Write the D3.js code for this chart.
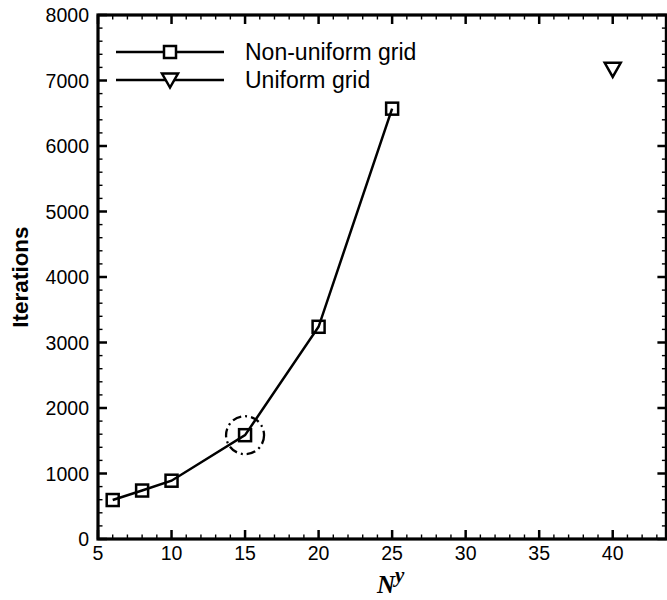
<!DOCTYPE html>
<html>
<head>
<meta charset="utf-8">
<script src="https://cdn.jsdelivr.net/npm/d3@7"></script>
<style>
  html, body { margin: 0; padding: 0; background: #fff; }
  svg { display: block; }
</style>
</head>
<body>
<svg id="chart" width="667" height="600"></svg>
<script>
// Grid points in y and the iteration count needed to converge
const nonUniformN = [6, 8, 10, 15, 20, 25];
const nonUniformIter = [595, 740, 890, 1585, 3240, 6570];
const uniformN = [40];
const uniformIter = [7170];
const highlightN = 15;
const highlightIter = 1585;

const xTicks = [5, 10, 15, 20, 25, 30, 35, 40];
const yTicks = [0, 1000, 2000, 3000, 4000, 5000, 6000, 7000, 8000];
const seriesNames = ["Non-uniform grid", "Uniform grid"];

const svg = d3.select("#chart");
const plotL = 98, plotR = 666.4, plotT = 15, plotB = 539;

const x = d3.scaleLinear().domain([5, 43.65]).range([plotL, plotR]);
const y = d3.scaleLinear().domain([0, 8000]).range([plotB, plotT]);

const font = "Arial, 'Liberation Sans', Helvetica, sans-serif";

// Minor / major tick helpers (inward ticks on all four sides)
const xMinor = d3.range(5, 44, 1).filter(v => v % 5 !== 0);
const yMinor = d3.range(0, 8001, 200).filter(v => v % 1000 !== 0);
const majorLen = 9, minorLen = 4.5;

const ticks = svg.append("g").attr("stroke", "#000");
function tickSet(vals, len, w, axis) {
  vals.forEach(v => {
    if (axis === "x") {
      ticks.append("line").attr("x1", x(v)).attr("x2", x(v)).attr("y1", plotB).attr("y2", plotB - len).attr("stroke-width", w);
      ticks.append("line").attr("x1", x(v)).attr("x2", x(v)).attr("y1", plotT).attr("y2", plotT + len).attr("stroke-width", w);
    } else {
      ticks.append("line").attr("y1", y(v)).attr("y2", y(v)).attr("x1", plotL).attr("x2", plotL + len).attr("stroke-width", w);
      ticks.append("line").attr("y1", y(v)).attr("y2", y(v)).attr("x1", plotR).attr("x2", plotR - len).attr("stroke-width", w);
    }
  });
}
tickSet(xTicks, majorLen, 2.5, "x");
tickSet(xMinor, minorLen, 1.4, "x");
tickSet(yTicks, majorLen, 2.5, "y");
tickSet(yMinor, minorLen, 1.4, "y");

// Frame
svg.append("rect")
  .attr("x", plotL).attr("y", plotT)
  .attr("width", plotR - plotL).attr("height", plotB - plotT)
  .attr("fill", "none").attr("stroke", "#000").attr("stroke-width", 3.2);

// Tick labels
svg.append("g").selectAll("text").data(xTicks).join("text")
  .attr("x", d => x(d)).attr("y", plotB + 21)
  .attr("text-anchor", "middle")
  .attr("font-family", font).attr("font-size", 19.5)
  .text(d => d);

svg.append("g").selectAll("text").data(yTicks).join("text")
  .attr("x", plotL - 9).attr("y", d => y(d) + 7)
  .attr("text-anchor", "end")
  .attr("font-family", font).attr("font-size", 19.5)
  .text(d => d);

// Axis titles
svg.append("text")
  .attr("transform", `translate(28, ${(plotT + plotB) / 2}) rotate(-90)`)
  .attr("text-anchor", "middle")
  .attr("font-family", font).attr("font-size", 22.5).attr("font-weight", "bold")
  .text("Iterations");

const xt = svg.append("text")
  .attr("x", 377).attr("y", 593)
  .attr("font-family", "'Liberation Serif', 'Times New Roman', serif")
  .attr("font-style", "italic").attr("font-weight", "bold")
  .attr("font-size", 25);
xt.append("tspan").text("N");
xt.append("tspan").attr("dy", -11).attr("font-size", 21).text("y");

// Non-uniform grid series
const line = d3.line().x((d, i) => x(nonUniformN[i])).y(d => y(d));
svg.append("path")
  .datum(nonUniformIter)
  .attr("d", line)
  .attr("fill", "none").attr("stroke", "#000").attr("stroke-width", 2.5);

const sq = 12;
svg.append("g").selectAll("rect").data(nonUniformIter).join("rect")
  .attr("x", (d, i) => x(nonUniformN[i]) - sq / 2)
  .attr("y", d => y(d) - sq / 2)
  .attr("width", sq).attr("height", sq)
  .attr("fill", "none").attr("stroke", "#000").attr("stroke-width", 2.5);

// Uniform grid series
const tri = (cx, cy) => `M${cx - 8},${cy - 6.5} L${cx + 8},${cy - 6.5} L${cx},${cy + 7.5} Z`;
svg.append("g").selectAll("path").data(uniformIter).join("path")
  .attr("d", (d, i) => tri(x(uniformN[i]), y(d)))
  .attr("fill", "none").attr("stroke", "#000").attr("stroke-width", 2.5)
  .attr("stroke-linejoin", "miter");

// Dash-dot ring around the selected grid
svg.append("circle")
  .attr("cx", x(highlightN)).attr("cy", y(highlightIter)).attr("r", 19)
  .attr("fill", "none").attr("stroke", "#000").attr("stroke-width", 2.3)
  .attr("stroke-dasharray", "9,4,2,4");

// Legend
const legY = [52, 80];
const lg = svg.append("g");
seriesNames.forEach((name, i) => {
  lg.append("line").attr("x1", 116).attr("x2", 224).attr("y1", legY[i]).attr("y2", legY[i])
    .attr("stroke", "#000").attr("stroke-width", 2.5);
  if (i === 0) {
    lg.append("rect").attr("x", 170 - sq / 2).attr("y", legY[i] - sq / 2).attr("width", sq).attr("height", sq)
      .attr("fill", "#fff").attr("stroke", "#000").attr("stroke-width", 2.5);
  } else {
    lg.append("path").attr("d", tri(170, legY[i])).attr("fill", "#fff").attr("stroke", "#000").attr("stroke-width", 2.5);
  }
  lg.append("text").attr("x", 245).attr("y", legY[i] + 8)
    .attr("font-family", font).attr("font-size", 23)
    .text(name);
});
</script>
</body>
</html>
